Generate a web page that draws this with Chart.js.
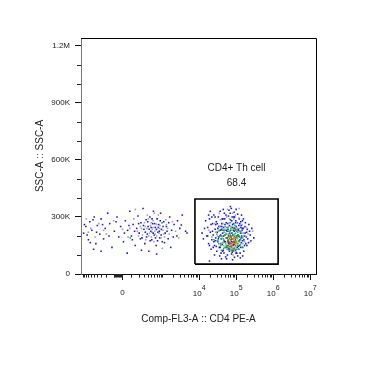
<!DOCTYPE html>
<html lang="en">
<head>
<meta charset="UTF-8">
<title>CD4+ Th cell gate</title>
<script src="https://cdn.jsdelivr.net/npm/chart.js"></script>
<style>
  html, body { margin: 0; padding: 0; background: #fff; }
</style>
</head>
<body>
<canvas id="plot" width="368" height="368"></canvas>
<script>
// axis ticks
const yTicks = [0, 300, 600, 900, 1200];              // SSC-A in thousands
const yTickLabels = ['0', '300K', '600K', '900K', '1.2M'];
const yMinor = [100, 200, 400, 500, 700, 800, 1000, 1100];
const xTicks = [0, 1e4, 1e5, 1e6, 1e7];               // Comp-FL3-A (biex)
const xTickExp = ['', '4', '5', '6', '7'];

// gate
const gateX = [7700, 1360000];
const gateY = [52, 395];
const gateName = 'CD4+ Th cell';
const gateFreq = '68.4';

// events [CD4 PE-A, SSC-A (K)] - CD4 negative population
const negBlue = [[-950,215],[-820,250],[-700,180],[-640,275],[-560,230],[-480,300],[-430,160],[-390,255],[-330,210],[-300,290],
  [-250,185],[-220,240],[-180,320],[-150,265],[-120,140],[-90,225],[-60,300],[-40,195],[-20,250],[10,170],[30,280],[55,230],
  [80,330],[100,200],[120,260],[150,150],[170,240],[190,305],[210,215],[240,270],[260,190],[280,345],[300,235],[320,160],
  [350,285],[380,210],[400,250],[420,120],[450,300],[480,225],[510,180],[540,265],[570,330],[600,205],[640,245],[680,150],
  [720,290],[760,220],[800,260],[850,190],[900,320],[950,235],[1000,170],[1100,275],[1200,215],[1300,250],[1450,185],
  [1600,300],[1800,230],[2100,260],[2500,200],[3000,240],[3500,310],[4300,225],[1700,140],[700,105],[250,125],[-300,120],
  [-900,260],[-760,205],[-620,165],[-520,285],[-410,220],[-270,260],[-160,200],[-70,275],[20,215],[70,255],[110,180],
  [140,225],[200,265],[230,185],[290,255],[330,220],[360,195],[390,275],[430,235],[460,175],[490,245],[520,290],[560,215],
  [610,265],[650,190],[690,235],[740,175],[780,245],[830,225],[880,280],[930,205],[1050,250],[1150,165],[1350,225],
  [1500,270],[2000,195],[2600,280],[-500,130],[50,110]];
const negGrey = [[-600,240],[-350,265],[-200,210],[-100,280],[0,235],[60,195],[130,290],[180,225],[230,250],[270,205],
  [310,270],[340,180],[370,240],[410,290],[440,215],[470,255],[500,195],[530,235],[560,280],[590,170],[620,225],[660,265],
  [700,200],[740,245],[780,310],[820,215],[870,255],[920,190],[980,270],[1050,230],[1150,195],[1250,285],[1400,240],
  [1550,210],[1900,275],[2300,225],[2800,190],[-800,290],[-450,195],[150,340],[600,320],[1000,135],
  [-250,230],[80,240],[200,200],[250,240],[330,250],[420,200],[490,270],[550,245],[640,210],[710,260],[850,240],
  [1100,210],[1300,260],[-700,220],[380,310]];
const negGreen = [[85,190],[1000,270],[520,220]];

// CD4 positive population
const posBlue = [[3300,258],[4700,216],[19000,68],
  [16000,200],[17000,245],[18000,160],[19000,290],[20000,220],[21000,130],[22000,180],[23000,265],[24000,205],[25000,310],
  [26000,150],[27000,235],[28000,190],[29000,275],[30000,120],[31000,220],[32000,170],[33000,300],[34000,250],[35000,140],
  [36000,200],[37000,330],[38000,230],[39000,110],[40000,185],[41000,265],[42000,155],[43000,215],[44000,290],[45000,125],
  [46000,245],[47000,175],[48000,320],[50000,205],[52000,140],[54000,270],[56000,190],[58000,100],[60000,235],[62000,305],
  [64000,160],[66000,255],[68000,130],[70000,285],[72000,180],[74000,345],[76000,215],[78000,115],[80000,260],[83000,150],
  [86000,300],[89000,195],[92000,240],[95000,125],[98000,280],[102000,170],[106000,225],[110000,315],[114000,145],
  [118000,255],[123000,195],[128000,110],[133000,275],[138000,165],[144000,230],[150000,140],[157000,290],[165000,200],
  [173000,250],[182000,160],[192000,220],[205000,185],[220000,260],[240000,205],[265000,240],[300000,190],[14000,240],
  [13000,185],[15000,280],[12000,215],[36000,95],[55000,80],[90000,88],[130000,85],[70000,355],[45000,340],[100000,340],
  [60000,150],[85000,230],[115000,200],[50000,260],[32000,240],[27000,175],[140000,310],[75000,105],[40000,235],[95000,165],
  [65000,195],[160000,120],[20000,330],
  [33000,185],[37000,140],[41000,250],[46000,200],[51000,170],[57000,225],[63000,135],[67000,215],[73000,195],[79000,245],
  [84000,155],[89000,225],[94000,190],[101000,250],[107000,140],[112000,205],[119000,175],[125000,265],[131000,215],
  [139000,190],[147000,240],[38000,205],[43000,120],[49000,290],[54000,230],[61000,165],[69000,145],[76000,280],[82000,125],
  [97000,270],[104000,110],[116000,230],[124000,150],[134000,245],[152000,175],[175000,215],[195000,150],[28000,260],
  [24000,140],[22000,300],
  [17000,200],[19000,150],[21000,260],[23000,225],[25000,170],[27000,300],[29000,145],[31000,265],[34000,195],[37000,250],
  [39000,160],[42000,290],[44000,230],[47000,110],[49000,170],[53000,310],[56000,140],[59000,265],[62000,200],[66000,120],
  [69000,320],[71000,230],[74000,170],[78000,300],[81000,205],[85000,265],[88000,135],[91000,300],[96000,230],[99000,110],
  [103000,200],[108000,270],[113000,235],[117000,130],[122000,290],[127000,180],[132000,140],[137000,255],[142000,200],
  [148000,280],[155000,240],[162000,180],[168000,150],[178000,270],[188000,195],[200000,235],[215000,165],[230000,225],
  [250000,175],[18000,310],[26000,100],[52000,90],[80000,75],[110000,95],[64000,335],[88000,325],[40000,80],[150000,95]];
const posGrey = [[18000,230],[22000,195],[26000,265],[30000,175],[34000,225],[38000,285],[42000,195],[46000,150],[50000,235],
  [55000,300],[60000,180],[65000,270],[70000,215],[75000,160],[80000,320],[85000,200],[90000,265],[96000,145],[103000,245],
  [110000,185],[118000,295],[126000,225],[135000,175],[145000,260],[155000,215],[170000,170],[190000,245],[210000,210],
  [240000,170],[280000,225],[62000,125],[48000,110],[100000,120],[35000,320],[58000,340],[28000,220],[120000,345],
  [73000,250],[88000,175],[44000,265],
  [31000,200],[36000,250],[40000,160],[43000,240],[47000,180],[52000,215],[57000,130],[63000,250],[68000,195],[72000,130],
  [78000,230],[83000,180],[87000,290],[92000,210],[98000,185],[104000,270],[109000,225],[113000,160],[122000,240],
  [130000,190],[140000,225],[150000,160],[165000,245],[180000,200],[66000,290],[82000,100],[95000,310]];
const posGreen = [[32000,175],[35000,230],[38000,150],[41000,200],[44000,165],[47000,220],[50000,140],[53000,190],[56000,245],
  [59000,170],[62000,210],[65000,145],[68000,225],[71000,180],[74000,125],[77000,200],[80000,165],[84000,240],[88000,190],
  [92000,135],[96000,215],[100000,175],[105000,235],[110000,150],[115000,205],[121000,170],[128000,225],[135000,185],
  [143000,140],[40000,125],[55000,210],[66000,185],[78000,150],[93000,255],[108000,195],[60000,245],[86000,120],[45000,185],
  [118000,130],[70000,270],[52000,160],[99000,200],[36000,200],[30000,210],[150000,190],[25000,180],
  [34000,160],[39000,185],[42000,230],[46000,135],[49000,205],[51000,250],[54000,150],[57000,190],[61000,130],[63000,225],
  [67000,165],[69000,205],[72000,240],[76000,140],[79000,215],[81000,185],[83000,130],[87000,205],[91000,170],[94000,230],
  [97000,150],[102000,190],[106000,160],[111000,220],[116000,175],[124000,200],[131000,155],[139000,215],[62000,180],
  [73000,160],[89000,245],[58000,140],[48000,230],[104000,130]];
const posYellow = [[55000,165],[105000,175]];
const posOrange = [[65000,195],[85000,190],[100000,165],[78000,135],[92000,195],[74000,150]];
const posRed = [[60000,175],[68000,160],[75000,185],[82000,170],[90000,155],[72000,145],[95000,180],[58000,190],
  [70000,200],[88000,165],[63000,170]];

const FONT = '"Liberation Sans", Arial, sans-serif';

// biexponential-like display transform for the CD4 axis
const W = 170;
function biex(v) { return Math.asinh(v / W) / Math.LN10; }
function biexInv(t) { return W * Math.sinh(t * Math.LN10); }

class BiexScale extends Chart.LinearScale {
  static id = 'biex';
  static defaults = {};
  getPixelForValue(value) {
    const t0 = biex(this.min), t1 = biex(this.max);
    return this.getPixelForDecimal((biex(value) - t0) / (t1 - t0));
  }
  getValueForPixel(pixel) {
    const t0 = biex(this.min), t1 = biex(this.max);
    return biexInv(t0 + this.getDecimalForPixel(pixel) * (t1 - t0));
  }
}
Chart.register(BiexScale);

// minor ticks: log decades, plus the negative linear part just left of 0
const xMinor = [];
for (let k = 1; k <= 6; k++) {
  for (let m = 1; m <= 9; m++) {
    const v = m * Math.pow(10, k);
    if (k >= 2 && !xTicks.includes(v)) xMinor.push(v);
    if (k <= 3) xMinor.push(-v);
  }
}

const toPts = arr => arr.map(p => ({ x: p[0], y: p[1] }));

function events(arr, color, order) {
  return {
    data: toPts(arr),
    backgroundColor: color,
    borderWidth: 0,
    pointStyle: 'rect',
    pointRadius: 1.1,
    order: order
  };
}

const gateBox = [
  [gateX[0], gateY[0]], [gateX[1], gateY[0]], [gateX[1], gateY[1]], [gateX[0], gateY[1]], [gateX[0], gateY[0]]
];

const extras = {
  id: 'extras',
  afterDraw(chart) {
    const { ctx, chartArea: a, scales: { x, y } } = chart;
    ctx.save();
    // frame top / right
    ctx.strokeStyle = '#000';
    ctx.lineWidth = 1;
    ctx.beginPath();
    ctx.moveTo(a.left, a.top + 0.5);
    ctx.lineTo(a.right + 0.5, a.top + 0.5);
    ctx.lineTo(a.right + 0.5, a.bottom);
    ctx.stroke();

    // minor ticks
    ctx.strokeStyle = '#222';
    ctx.beginPath();
    yMinor.forEach(v => {
      const p = Math.round(y.getPixelForValue(v)) + 0.5;
      ctx.moveTo(a.left - 4, p);
      ctx.lineTo(a.left, p);
    });
    xMinor.forEach(v => {
      if (v < x.min || v > x.max) return;
      const p = Math.round(x.getPixelForValue(v)) + 0.5;
      ctx.moveTo(p, a.bottom);
      ctx.lineTo(p, a.bottom + 3.5);
    });
    ctx.stroke();

    // x tick labels with superscript exponents
    ctx.fillStyle = '#222';
    ctx.textBaseline = 'alphabetic';
    xTicks.forEach((v, i) => {
      const px = x.getPixelForValue(v);
      const base = '8px ' + FONT, sup = '7px ' + FONT;
      if (!xTickExp[i]) {
        ctx.font = base;
        ctx.textAlign = 'center';
        ctx.fillText('0', px, 295);
        return;
      }
      ctx.font = base;
      const w1 = ctx.measureText('10').width;
      ctx.font = sup;
      const w2 = ctx.measureText(xTickExp[i]).width;
      const left = px - (w1 + w2) / 2;
      ctx.textAlign = 'left';
      ctx.font = base;
      ctx.fillText('10', left, 296);
      ctx.font = sup;
      ctx.fillText(xTickExp[i], left + w1, 290);
    });

    // axis titles
    ctx.font = '10px ' + FONT;
    ctx.textAlign = 'center';
    ctx.textBaseline = 'middle';
    ctx.fillText('Comp-FL3-A :: CD4 PE-A', (a.left + a.right) / 2, 319);
    ctx.save();
    ctx.translate(40, (a.top + a.bottom) / 2);
    ctx.rotate(-Math.PI / 2);
    ctx.fillText('SSC-A :: SSC-A', 0, 0);
    ctx.restore();

    // gate label
    const gx = (x.getPixelForValue(gateX[0]) + x.getPixelForValue(gateX[1])) / 2;
    const gy = y.getPixelForValue(gateY[1]);
    ctx.font = '10px ' + FONT;
    ctx.fillText(gateName, gx, gy - 31);
    ctx.fillText(gateFreq, gx, gy - 16);
    ctx.restore();
  }
};

new Chart(document.getElementById('plot'), {
  type: 'scatter',
  data: {
    datasets: [
      {
        data: toPts(gateBox),
        showLine: true,
        borderColor: '#000',
        borderWidth: 1.6,
        pointRadius: 0,
        fill: false,
        tension: 0,
        order: 0
      },
      events(posRed, '#ff1010', 1),
      events(posOrange, '#ff8c00', 2),
      events(posYellow, '#e6e600', 3),
      events(negGreen, '#1fbf1f', 4),
      events(posGreen, '#1fbf1f', 4),
      events(negGrey, '#9d9dbd', 5),
      events(posGrey, '#9d9dbd', 5),
      events(negBlue, '#1414f0', 6),
      events(posBlue, '#1414f0', 6)
    ]
  },
  options: {
    responsive: false,
    devicePixelRatio: 1,
    animation: false,
    layout: { padding: { top: 38, right: 52, left: 0, bottom: 0 } },
    plugins: { legend: { display: false }, tooltip: { enabled: false } },
    scales: {
      x: {
        type: 'biex',
        bounds: 'data',
        min: -1119,
        max: 14370000,
        afterBuildTicks: s => { s.ticks = xTicks.map(v => ({ value: v })); },
        afterFit: s => { s.height = 94; },
        ticks: { display: false, autoSkip: false },
        grid: { drawOnChartArea: false, tickLength: 6, tickColor: '#111' },
        border: { color: '#111', width: 1 }
      },
      y: {
        type: 'linear',
        bounds: 'data',
        min: 0,
        max: 1242,
        afterBuildTicks: s => { s.ticks = yTicks.map(v => ({ value: v })); },
        afterFit: s => { s.width = 81; },
        ticks: {
          autoSkip: false,
          padding: 5,
          color: '#222',
          font: { size: 8, family: FONT },
          callback: (v, i) => yTickLabels[i]
        },
        grid: { drawOnChartArea: false, tickLength: 6, tickColor: '#111' },
        border: { color: '#777', width: 1 }
      }
    }
  },
  plugins: [extras]
});
</script>
</body>
</html>
